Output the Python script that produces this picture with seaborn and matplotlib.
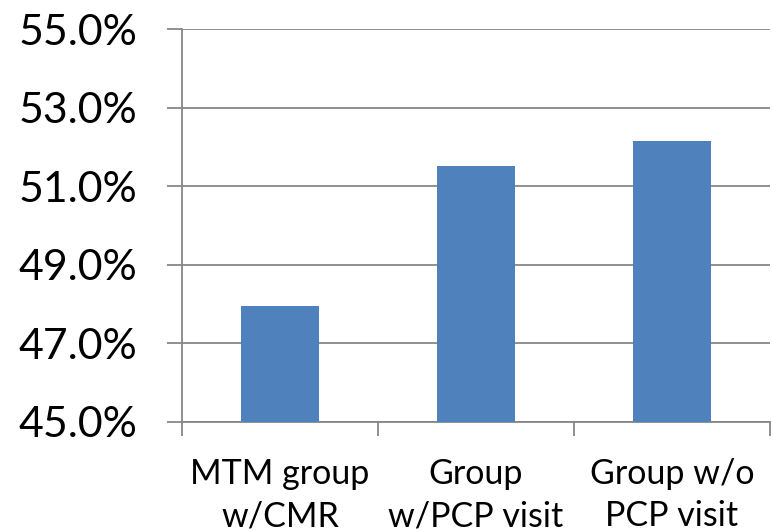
import matplotlib
matplotlib.use("Agg")
import matplotlib.pyplot as plt
import seaborn as sns
import pandas as pd
from matplotlib.ticker import FixedLocator, FuncFormatter

# Share of members per group (percent)
groups = ["MTM group\nw/CMR", "Group\nw/PCP visit", "Group w/o\nPCP visit"]
rates = [47.95, 51.52, 52.16]
y_ticks = [45, 47, 49, 51, 53, 55]

sns.set_theme(style="white")
plt.rcParams["font.family"] = ["Lato", "DejaVu Sans"]

df = pd.DataFrame({"group": groups, "rate": rates})

fig = plt.figure(figsize=(7.73, 5.30), dpi=100)
ax = fig.add_axes([0.2355, 0.2043, 0.7605, 0.7404])

sns.barplot(data=df, x="group", y="rate", color="#4F81BD", width=0.4,
            saturation=1, edgecolor="none", ax=ax, zorder=3)

grid_c = "#878787"
ax.set_ylim(45, 55)
ax.set_xlim(-0.5, 2.5)
ax.yaxis.set_major_locator(FixedLocator(y_ticks))
ax.yaxis.set_major_formatter(FuncFormatter(lambda v, p: f"{v:.1f}%"))
ax.yaxis.grid(True, color=grid_c, linewidth=1.3, zorder=0)
ax.set_axisbelow(True)

for side in ["top", "right"]:
    ax.spines[side].set_visible(False)
for side in ["left", "bottom"]:
    ax.spines[side].set_color(grid_c)
    ax.spines[side].set_linewidth(1.3)

ax.tick_params(axis="y", which="major", left=True, length=11, width=1.3,
               color=grid_c, labelsize=30.8, pad=21, labelcolor="black")
ax.set_xticks(range(len(groups)))
ax.set_xticklabels(groups, fontsize=24.5, linespacing=1.4, color="black")
ax.tick_params(axis="x", which="major", length=0, pad=26)
ax.set_xticks([-0.5, 0.5, 1.5, 2.5], minor=True)
ax.tick_params(axis="x", which="minor", bottom=True, length=10, width=1.3,
               color=grid_c)

ax.set_xlabel("")
ax.set_ylabel("")

fig.savefig("out.png", dpi=100)
